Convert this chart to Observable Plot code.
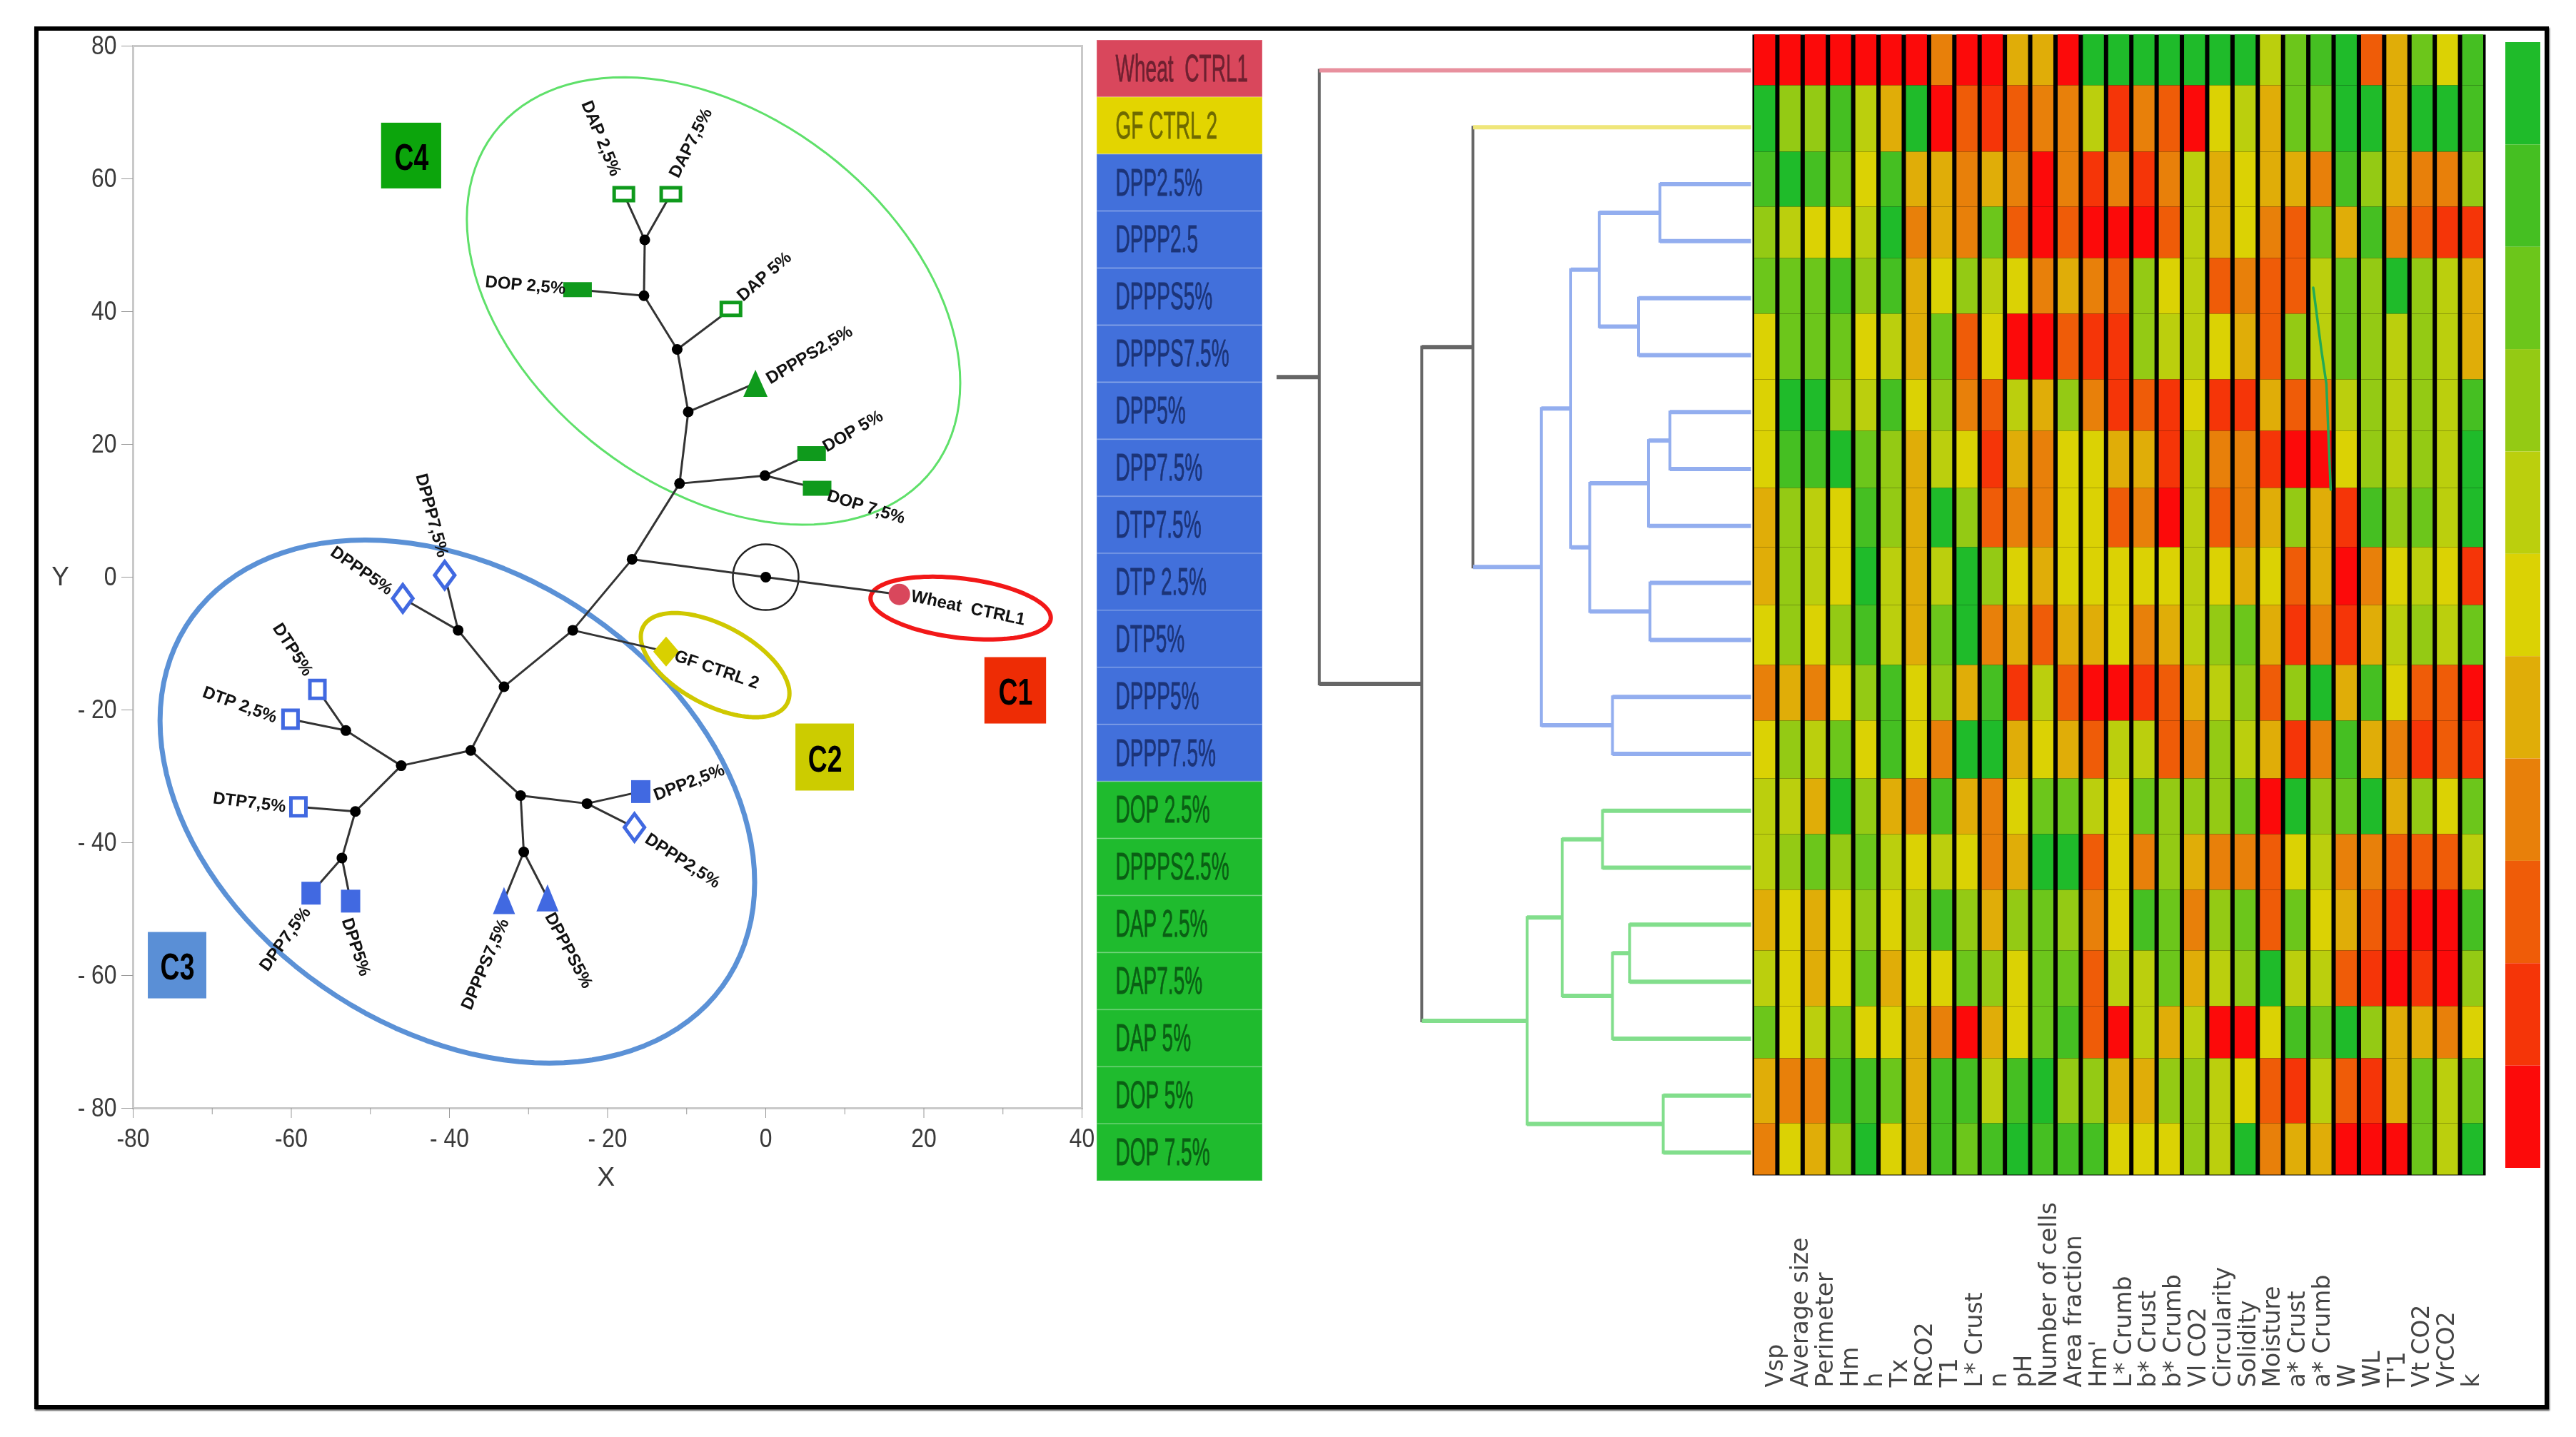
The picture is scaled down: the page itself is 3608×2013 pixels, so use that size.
<!DOCTYPE html>
<html><head><meta charset="utf-8">
<script src="https://cdn.jsdelivr.net/npm/d3@7"></script>
<script src="https://cdn.jsdelivr.net/npm/@observablehq/plot@0.6"></script>
<style>
html,body{margin:0;padding:0;background:#fff}
#page{position:relative;width:3608px;height:2013px;overflow:hidden;filter:blur(.7px)}
#frame{position:absolute;left:48px;top:37px;width:3510px;height:1925px;border:6px solid #000;box-shadow:1px 2px 2px #444}
</style></head><body><div id="page"><div id="frame"></div></div>
<script>
// ---------- scatter / constellation tree ----------
const treeNodes = [["A",0,0],["B",-16.9,2.7],["C",-10.9,14.1],["D",-9.8,24.9],["E",-11.2,34.3],["F",-15.4,42.4],["G",-15.3,50.8],["H",-0.1,15.3],["I",-24.4,-8],["J",-33.1,-16.5],["K",-38.9,-8],["L",-37.3,-26.1],["M",-46.1,-28.4],["N",-53.1,-23.1],["O",-51.9,-35.3],["P",-53.6,-42.3],["Q",-31,-32.9],["R",-22.6,-34.1],["S",-30.6,-41.4]];
const treeLeaves = [
 ["DAP 2,5%",-17.95,57.7,"openG"],["DAP7,5%",-12,57.7,"openG"],["DOP 2,5%",-23.8,43.3,"fillG"],["DAP 5%",-4.4,40.4,"openG"],
 ["DPPPS2,5%",-1.3,29.2,"triG"],["DOP 5%",5.8,18.6,"fillG"],["DOP 7,5%",6.5,13.4,"fillG"],["Wheat  CTRL1",16.9,-2.6,"circ"],
 ["GF CTRL 2",-12.6,-11.2,"diaY"],["DPPP5%",-45.9,-3.2,"diaB"],["DPPP7,5%",-40.6,0.3,"diaB"],["DTP5%",-56.7,-16.9,"openB"],
 ["DTP 2,5%",-60.1,-21.4,"openB"],["DTP7,5%",-59.1,-34.6,"openB"],["DPP7,5%",-57.5,-47.6,"fillB"],["DPP5%",-52.5,-48.8,"fillB"],
 ["DPPPS7,5%",-33.1,-48.7,"triB"],["DPPPS5%",-27.6,-48.3,"triB"],["DPP2,5%",-15.8,-32.3,"fillB"],["DPPP2,5%",-16.6,-37.7,"diaB"]];
const treeEdges = [["A","B"],["A","Wheat  CTRL1"],["B","C"],["B","I"],["C","D"],["C","H"],["D","E"],["D","DPPPS2,5%"],["E","F"],["E","DAP 5%"],["F","G"],["F","DOP 2,5%"],["G","DAP 2,5%"],["G","DAP7,5%"],["H","DOP 5%"],["H","DOP 7,5%"],["I","GF CTRL 2"],["I","J"],["J","K"],["J","L"],["K","DPPP5%"],["K","DPPP7,5%"],["L","M"],["L","Q"],["M","N"],["M","O"],["N","DTP5%"],["N","DTP 2,5%"],["O","DTP7,5%"],["O","P"],["P","DPP7,5%"],["P","DPP5%"],["Q","R"],["Q","S"],["R","DPP2,5%"],["R","DPPP2,5%"],["S","DPPPS7,5%"],["S","DPPPS5%"]];
const leafLabels = [
 ["DAP 2,5%",-20.8,66.1,68],["DAP7,5%",-9.5,65.4,-63],["DOP 2,5%",-30.4,44,5],["DAP 5%",-0.2,45.3,-41],["DPPPS2,5%",5.5,33.5,-31],
 ["DOP 5%",11,22,-30],["DOP 7,5%",12.7,10.6,17],["Wheat  CTRL1",25.6,-4.6,12],["GF CTRL 2",-6.2,-13.9,19],["DPPP7,5%",-42.2,9.3,75],
 ["DPPP5%",-51.1,1,35],["DTP5%",-59.8,-10.9,57],["DTP 2,5%",-66.5,-19.2,20],["DTP7,5%",-65.3,-33.9,7],["DPP7,5%",-60.8,-54.5,-54],
 ["DPP5%",-51.8,-55.7,72],["DPPPS7,5%",-35.5,-58.3,-67],["DPPPS5%",-24.9,-56.2,62],["DPP2,5%",-9.7,-30.9,-21],["DPPP2,5%",-10.5,-42.7,33]];
const clusterBoxes = [["C1",27.7,35.5,-12.1,-22.1,"#ee2c05"],["C2",3.8,11.2,-22.1,-32.2,"#cccc00"],["C3",-78.1,-70.7,-53.5,-63.5,"#5a8fd6"],["C4",-48.6,-41,68.4,58.5,"#0ca50c"]];
// outline: centre x, centre y, half-width, half-height, phase (deg), stroke, width
const clusterOutlines = [[-6.6,41.6,31.2,33.7,68.5,"#5fe06a",3],[-39,-33.8,37.6,39.4,72,"#5b91d6",7],[24.65,-4.66,11.4,4.73,72,"#f21818",6],[-6.4,-13.25,9.4,7.85,57,"#cfc800",6]];

// ---------- label strip + dendrogram ----------
const rowLabels = ["Wheat  CTRL1","GF CTRL 2","DPP2.5%","DPPP2.5","DPPPS5%","DPPPS7.5%","DPP5%","DPP7.5%","DTP7.5%","DTP 2.5%","DTP5%","DPPP5%","DPPP7.5%","DOP 2.5%","DPPPS2.5%","DAP 2.5%","DAP7.5%","DAP 5%","DOP 5%","DOP 7.5%"];
const rowGroups = ["w","g","b","b","b","b","b","b","b","b","b","b","b","o","o","o","o","o","o","o"];
const blue = [44.2,[38,[32,[19.2,2,3],[23.7,4,5]],[34,[21.6,[17.1,6,7],8],[21.3,9,10]]],[29.2,11,12]];
const green = [47.2,[39.8,[31.3,13,14],[29.2,[25.6,15,16],17]],[18.5,18,19]];
const dendro = [91,0,[69.4,[58.6,1,blue],green]];
const rootStub = 100;

// ---------- heat map ----------
const columns = ["Vsp","Average size","Perimeter","Hm","h","Tx","RCO2","T1","L* Crust","n","pH","Number of cells","Area fraction","Hm'","L* Crumb","b* Crust","b* Crumb","Vl CO2","Circularity","Solidity","Moisture","a* Crust","a* Crumb","W","WL","T'1","Vt CO2","VrCO2","k"];
const heat = [
 [10,10,10,10,10,10,10,7,10,10,6,6,10,0,0,0,0,0,0,0,4,2,1,0,8,6,2,5,1],
 [0,3,3,1,4,6,0,10,8,9,8,7,7,4,9,7,8,10,5,4,6,2,2,0,0,6,0,0,1],
 [1,0,1,2,5,1,6,6,7,6,7,10,7,9,7,9,7,4,6,5,6,6,7,1,3,6,7,7,3],
 [3,4,5,5,4,0,7,6,7,2,8,10,8,10,10,10,8,4,6,5,7,8,2,6,1,7,8,9,9],
 [2,2,2,1,3,1,6,5,3,4,5,7,6,7,8,3,5,4,8,7,8,8,4,2,3,0,3,4,6],
 [5,2,2,2,5,4,6,2,8,5,10,10,8,9,9,3,4,4,5,6,8,3,4,2,3,4,3,4,6],
 [5,0,0,3,4,1,5,3,7,8,4,6,3,7,9,8,9,5,9,9,6,8,7,4,3,4,3,4,1],
 [5,1,1,0,2,3,6,4,5,9,6,7,5,5,6,6,9,4,7,7,9,10,10,5,3,4,3,4,0],
 [6,3,4,5,1,3,6,0,3,8,7,7,5,5,8,7,10,4,8,7,6,3,6,9,1,3,2,4,0],
 [6,3,4,5,0,4,6,4,0,3,5,6,5,5,5,5,5,4,5,6,5,8,6,10,7,5,4,5,9],
 [5,3,5,3,1,4,6,2,0,7,6,8,6,6,5,7,6,4,3,2,6,9,7,9,6,4,3,4,2],
 [7,6,7,5,3,1,5,3,6,1,9,4,8,10,10,9,8,6,4,3,8,3,0,6,1,5,8,8,10],
 [5,3,4,2,5,1,5,7,0,0,6,5,6,8,4,4,8,7,3,4,6,9,7,1,6,7,9,8,9],
 [4,4,6,0,3,6,7,1,6,7,5,2,2,4,5,2,3,3,3,2,10,0,3,2,0,6,3,5,2],
 [4,3,2,3,2,4,5,4,5,7,6,0,0,8,5,7,3,6,7,7,8,5,4,7,7,8,8,8,4],
 [6,5,6,5,3,5,4,1,3,6,3,2,3,7,5,1,2,7,3,2,8,2,5,6,8,9,10,10,1],
 [4,5,6,5,2,6,5,5,2,3,5,2,2,8,4,4,2,6,4,3,0,4,4,8,9,10,9,10,3],
 [2,5,4,2,5,5,6,7,10,6,5,2,1,8,10,4,6,4,10,10,5,1,2,0,3,6,6,7,5],
 [6,7,7,1,1,2,6,1,1,4,1,0,3,3,6,6,3,3,4,5,8,9,4,8,9,6,2,4,2],
 [7,5,6,3,0,5,6,1,2,1,0,1,1,1,5,5,5,3,4,0,7,6,6,10,10,10,2,4,0]];
const levelColors = ["#1fbb2a","#45bf22","#6cc61b","#94ca14","#bbcf0d","#dbd204","#e0ad08","#e8800a","#ef5c08","#f53508","#fc0a0a"];
// cumulative row depth in the heat map (rows are not equally tall)
const rowEdge = [0,71.5,164.5,241.5,313.5,391.5,483.5,555.5,635.5,718.5,799.5,883.5,961.5,1042.5,1120.5,1198.5,1283.5,1361.5,1434.5,1525.5,1597.5];
const penStroke = [[22.18,354.5],[22.5,441.5],[22.7,489.5],[22.87,637.5]];

// ---------- helpers ----------
const page = document.getElementById("page");
const place = (svg,l,t)=>{svg.style.position="absolute";svg.style.left=l+"px";svg.style.top=t+"px";svg.style.background="transparent";svg.style.overflow="visible";page.appendChild(svg);return svg;};
const squeeze = (svg,sel,f)=>{svg.querySelectorAll(sel).forEach(t=>{const L=t.getComputedTextLength();if(L>0){t.setAttribute("textLength",L*f);t.setAttribute("lengthAdjust","spacingAndGlyphs");}});};
const box = (w,h)=>({draw(c){c.rect(-w/2,-h/2,w,h);}});
const dia = (w,h)=>({draw(c){c.moveTo(0,-h/2);c.lineTo(w/2,0);c.lineTo(0,h/2);c.lineTo(-w/2,0);c.closePath();}});
const tri = (w,h)=>({draw(c){c.moveTo(0,-h/2);c.lineTo(w/2,h/2);c.lineTo(-w/2,h/2);c.closePath();}});
const MARK = {G:"#0f9a1c",B:"#4169e1"};

// ---------- scatter ----------
const pos = new Map([...treeNodes,...treeLeaves].map(d=>[d[0],[d[1],d[2]]]));
const ringPts = o=>d3.range(0,361,3).map(a=>{const t=a*Math.PI/180;return [o[0]+o[2]*Math.cos(t),o[1]-o[3]*Math.cos(t-o[4]*Math.PI/180)];});
const leafKind = k=>treeLeaves.filter(d=>d[3]===k);
const leafDot = (k,symbol,opts)=>Plot.dot(leafKind(k),{x:d=>d[1],y:d=>d[2],r:1,symbol,...opts});
const minus = d=>d<0?"- "+(-d):""+d;
const scatter = Plot.plot({
 width:1500,height:1640,marginLeft:135,marginTop:20,marginRight:36,marginBottom:132,
 style:{background:"#f7f7f7",fontFamily:"'Liberation Sans',sans-serif"},
 x:{domain:[-80,40]},y:{domain:[-80,80]},
 marks:[
  Plot.frame({fill:"#fff",stroke:"#c9c9c9",strokeWidth:3}),
  Plot.axisX({ticks:[-70,-50,-30,-10,10,30],tickSize:9,tickFormat:()=>"",stroke:"#999",label:null}),
  Plot.axisX({ticks:d3.range(-80,41,20),tickSize:14,tickPadding:14,fontSize:37,fill:"#3a3a3a",stroke:"#999",label:null,tickFormat:d=>d<=-60?"-"+(-d):minus(d)}),
  Plot.axisY({ticks:d3.range(-80,81,20),tickSize:16,tickPadding:7,fontSize:37,fill:"#3a3a3a",stroke:"#999",label:null,tickFormat:minus}),
  Plot.text(["X"],{x:()=>-20.2,y:()=>-80,dy:97,fontSize:37,fill:"#3a3a3a",text:d=>d}),
  Plot.text(["Y"],{x:()=>-80,y:()=>0,dx:-102,fontSize:37,fill:"#3a3a3a",text:d=>d}),
  Plot.rect(clusterBoxes,{x1:d=>d[1],x2:d=>d[2],y1:d=>d[3],y2:d=>d[4],fill:d=>d[5]}),
  Plot.text(clusterBoxes,{x:d=>(d[1]+d[2])/2,y:d=>(d[3]+d[4])/2,text:d=>d[0],dy:3,fontSize:52,fontWeight:"bold",fill:"#000",className:"cl"}),
  ...clusterOutlines.map(o=>Plot.line(ringPts(o),{x:d=>d[0],y:d=>d[1],stroke:o[5],strokeWidth:o[6]})),
  Plot.dot([[0,0]],{x:d=>d[0],y:d=>d[1],r:46,stroke:"#222",strokeWidth:2.5,fill:"none"}),
  Plot.link(treeEdges,{x1:d=>pos.get(d[0])[0],y1:d=>pos.get(d[0])[1],x2:d=>pos.get(d[1])[0],y2:d=>pos.get(d[1])[1],stroke:"#333",strokeWidth:3}),
  Plot.dot(treeNodes,{x:d=>d[1],y:d=>d[2],r:7.5,fill:"#000"}),
  leafDot("openG",box(27,18),{fill:"#fff",stroke:MARK.G,strokeWidth:5}),
  leafDot("fillG",box(40,21),{fill:MARK.G}),
  leafDot("triG",tri(34,38),{fill:MARK.G}),
  leafDot("circ",d3.symbolCircle,{r:15,fill:"#d9475c"}),
  leafDot("diaY",dia(36,42),{fill:"#d9d000"}),
  leafDot("diaB",dia(28,38),{fill:"#fff",stroke:MARK.B,strokeWidth:5}),
  leafDot("openB",box(21,25),{fill:"#fff",stroke:MARK.B,strokeWidth:5}),
  leafDot("fillB",box(27,32),{fill:MARK.B}),
  leafDot("triB",tri(31,38),{fill:MARK.B}),
  Plot.text(leafLabels,{x:d=>d[1],y:d=>d[2],text:d=>d[0],rotate:d=>d[3],fontSize:24,fontWeight:"bold",fill:"#111"})
 ]});
place(scatter,51,44);
squeeze(scatter,'[aria-label="y-axis tick label"] text, [aria-label="x-axis tick label"] text',.86);
squeeze(scatter,'.cl text',.72);

// ---------- label strip ----------
const stripFill = {w:"#d9475c",g:"#e3d500",b:"#4270db",o:"#1fbb2e"};
const stripInk = {w:"#6e2030",g:"#6f6a00",b:"#1c3478",o:"#0a5f14"};
const stripRows = rowLabels.map((name,i)=>({name,group:rowGroups[i]}));
const strip = Plot.plot({
 width:232,height:1598,margin:0,
 style:{background:"transparent",fontFamily:"'Liberation Sans',sans-serif"},
 x:{axis:null},y:{domain:rowLabels,axis:null,padding:0,round:false},
 marks:[
  Plot.cell(stripRows,{y:"name",fill:d=>stripFill[d.group],stroke:"#ffffff",strokeOpacity:.16,strokeWidth:2}),
  Plot.text(stripRows,{y:"name",text:"name",frameAnchor:"left",dx:26,fontSize:54,textAnchor:"start",fill:d=>stripInk[d.group],stroke:d=>stripInk[d.group],strokeWidth:.8,className:"st"})
 ]});
place(strip,1536,56);
squeeze(strip,'.st text',.52);

// ---------- dendrogram ----------
const segH=[],segV=[];
const tint = {w:"#e8909e",g:"#efe67a",b:"#93aeef",o:"#82de8c",k:"#666"};
const lay = n=>{
 if(typeof n==="number") return {d:0,y:n,col:["w","g"][n]||(n<13?"b":"o")};
 const [d,a,b]=n;
 const la=lay(a),lb=lay(b);
 const y=(la.y+lb.y)/2;
 segV.push({x:d,y1:la.y,y2:lb.y,c:la.col===lb.col?la.col:"k"});
 segH.push({x1:d,x2:la.d,y:la.y,c:la.col},{x1:d,x2:lb.d,y:lb.y,c:lb.col});
 return {d,y,col:la.col===lb.col?la.col:"k"};
};
const top0 = lay(dendro);
segH.push({x1:rootStub,x2:top0.d,y:top0.y,c:"k"});
const dend = Plot.plot({
 width:690,height:1630,margin:0,
 x:{domain:[100,0],range:[17.5,682],axis:null},
 y:{domain:[0,19],range:[58,1574],axis:null},
 style:{background:"transparent"},
 marks:[
  Plot.link(segV,{x1:"x",x2:"x",y1:"y1",y2:"y2",stroke:d=>tint[d.c],strokeWidth:4,strokeLinecap:"square"}),
  Plot.link(segH,{x1:"x1",x2:"x2",y1:"y",y2:"y",stroke:d=>tint[d.c],strokeWidth:6,strokeLinecap:"butt"})
 ]});
place(dend,1770,40);

// ---------- heat map ----------
const heatCells = heat.flatMap((vals,r)=>vals.map((v,c)=>({r,c,v})));
const heatPlot = Plot.plot({
 width:1027,height:1598,margin:0,
 x:{domain:[0,29],axis:null},
 y:{domain:[0,1598],range:[0,1598],axis:null},
 color:{type:"ordinal",domain:d3.range(11),range:levelColors},
 style:{background:"transparent"},
 marks:[
  Plot.frame({fill:"#000"}),
  Plot.rect(heatCells,{x1:"c",x2:d=>d.c+1,y1:d=>rowEdge[d.r],y2:d=>rowEdge[d.r+1],fill:"v",insetLeft:3,insetRight:3}),
  Plot.line(penStroke,{x:d=>d[0],y:d=>d[1],stroke:"#22aa55",strokeWidth:3.5})
 ]});
place(heatPlot,2454,48);

// ---------- column labels ----------
const colLabels = Plot.plot({
 width:1040,height:290,margin:0,
 x:{domain:[0,28],range:[18,993],axis:null},
 style:{background:"transparent",fontFamily:"'DejaVu Sans',sans-serif"},
 marks:[Plot.text(columns,{x:(d,i)=>i,text:d=>d,frameAnchor:"bottom",rotate:-90,textAnchor:"start",lineAnchor:"middle",fontSize:33,fill:"#444"})]
});
place(colLabels,2468,1653);

// ---------- colour key ----------
const key = Plot.plot({
 width:49,height:1577,margin:0,
 x:{axis:null},y:{domain:d3.range(11),axis:null,padding:0,round:false},
 color:{type:"ordinal",domain:d3.range(11),range:levelColors},
 style:{background:"transparent"},
 marks:[Plot.cell(d3.range(11),{y:d=>d,fill:d=>d})]
});
place(key,3509,59);
</script></body></html>
